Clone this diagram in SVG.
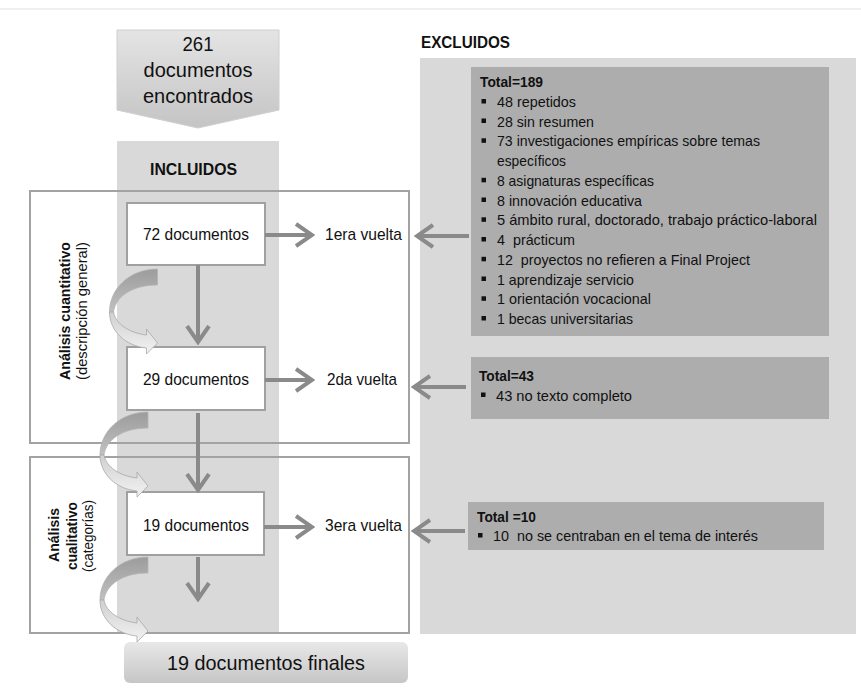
<svg xmlns="http://www.w3.org/2000/svg" width="861" height="689" viewBox="0 0 861 689">
<defs>
<style>
text{font-family:"Liberation Sans",Arial,sans-serif;fill:#111}
.b{font-weight:bold}
.li{font-size:14.6px}
.hd{font-size:14.6px;font-weight:bold}
.doc{font-size:17px}
.frame{fill:none;stroke:#a3a3a3;stroke-width:2}
.wbox{fill:#fff;stroke:#a0a0a0;stroke-width:2}
.ex{fill:#adadad}
.conn{stroke:#8a8a8a;stroke-width:4;fill:none}
.bul{fill:#111}
</style>
<linearGradient id="gTop" x1="0" y1="0" x2="0" y2="1">
<stop offset="0" stop-color="#e4e4e4"/><stop offset="1" stop-color="#c4c4c4"/>
</linearGradient>
<linearGradient id="gFin" x1="0" y1="0" x2="0" y2="1">
<stop offset="0" stop-color="#e8e8e8"/><stop offset="1" stop-color="#c6c6c6"/>
</linearGradient>
<linearGradient id="gDark" x1="0" y1="0" x2="0" y2="1">
<stop offset="0" stop-color="#9c9c9c"/><stop offset="1" stop-color="#c0c0c0"/>
</linearGradient>
<linearGradient id="gLight" x1="0" y1="0" x2="0" y2="1">
<stop offset="0" stop-color="#d0d0d0"/><stop offset="1" stop-color="#f2f2f2"/>
</linearGradient>
<g id="curve">
<path d="M0,0 C-28,0 -48,20 -48,43 L-44,43 C-42,28 -26,16 0,16 Z" fill="url(#gDark)" stroke="#b4b4b4" stroke-width="0.8"/>
<path d="M-48,43 C-48,62 -32,77 -11,79 L-11,85 L0,74 L-11,60 L-11,66 C-28,64 -42,55 -44,43 Z" fill="url(#gLight)" stroke="#a8a8a8" stroke-width="0.8"/>
</g>
<marker id="ah" viewBox="0 0 20 26" refX="17" refY="13" markerWidth="20" markerHeight="26" markerUnits="userSpaceOnUse" orient="auto">
<path d="M1,2 L17,13 L1,24" fill="none" stroke="#8a8a8a" stroke-width="4"/>
</marker>
</defs>

<rect width="861" height="689" fill="#fff"/>
<line x1="0" y1="9" x2="861" y2="9" stroke="#e2e2e2" stroke-width="1.2"/>

<g id="incluidos-col">
<rect x="117" y="141" width="162" height="492" fill="#d9d9d9"/>
<text class="b" x="193.5" y="175" font-size="16.5" text-anchor="middle" textLength="87" lengthAdjust="spacingAndGlyphs">INCLUIDOS</text>
</g>
<g id="excluidos-col">
<text class="b" x="421" y="48" font-size="16.5" textLength="89" lengthAdjust="spacingAndGlyphs">EXCLUIDOS</text>
<rect x="420" y="58" width="436" height="576" fill="#d9d9d9"/>
</g>

<g id="start">
<polygon points="117,30 279,30 279,110 198,128 117,110" fill="url(#gTop)" stroke="#cfcfcf" stroke-width="1"/>
<text x="198" y="50.5" font-size="20" text-anchor="middle" textLength="31" lengthAdjust="spacingAndGlyphs">261</text>
<text x="198" y="77" font-size="20" text-anchor="middle" textLength="109" lengthAdjust="spacingAndGlyphs">documentos</text>
<text x="198" y="103" font-size="20" text-anchor="middle" textLength="110" lengthAdjust="spacingAndGlyphs">encontrados</text>
</g>

<g id="fase-cuantitativa">
<rect class="frame" x="30" y="191" width="379" height="252"/>
<text class="b" font-size="14.5" transform="translate(70,311) rotate(-90)" text-anchor="middle" textLength="138" lengthAdjust="spacingAndGlyphs">Análisis cuantitativo</text>
<text font-size="14.5" transform="translate(86.5,311) rotate(-90)" text-anchor="middle" textLength="138" lengthAdjust="spacingAndGlyphs">(descripción general)</text>
</g>
<g id="fase-cualitativa">
<rect class="frame" x="30" y="457" width="379" height="176"/>
<text class="b" font-size="14.5" transform="translate(59,535) rotate(-90)" text-anchor="middle" textLength="54" lengthAdjust="spacingAndGlyphs">Análisis</text>
<text class="b" font-size="14.5" transform="translate(76.5,536) rotate(-90)" text-anchor="middle" textLength="68" lengthAdjust="spacingAndGlyphs">cualitativo</text>
<text font-size="14.5" transform="translate(93,536) rotate(-90)" text-anchor="middle" textLength="72" lengthAdjust="spacingAndGlyphs">(categorías)</text>
</g>

<g id="doc72">
<rect class="wbox" x="127" y="203" width="138" height="62"/>
<text class="doc" x="196" y="240" text-anchor="middle" textLength="106" lengthAdjust="spacingAndGlyphs">72 documentos</text>
</g>
<g id="doc29">
<rect class="wbox" x="127" y="347" width="138" height="63"/>
<text class="doc" x="196" y="385" text-anchor="middle" textLength="106" lengthAdjust="spacingAndGlyphs">29 documentos</text>
</g>
<g id="doc19">
<rect class="wbox" x="127" y="492" width="137" height="63"/>
<text class="doc" x="196" y="531" text-anchor="middle" textLength="106" lengthAdjust="spacingAndGlyphs">19 documentos</text>
</g>

<g id="vuelta1"><text class="doc" x="325" y="240" textLength="77" lengthAdjust="spacingAndGlyphs">1era vuelta</text></g>
<g id="vuelta2"><text class="doc" x="327" y="385" textLength="70" lengthAdjust="spacingAndGlyphs">2da vuelta</text></g>
<g id="vuelta3"><text class="doc" x="325" y="531" textLength="77" lengthAdjust="spacingAndGlyphs">3era vuelta</text></g>

<g id="final">
<rect x="124" y="642" width="284" height="41" rx="6" fill="url(#gFin)"/>
<text x="266" y="670" font-size="21" text-anchor="middle" textLength="198" lengthAdjust="spacingAndGlyphs">19 documentos finales</text>
</g>

<g id="excl1">
<rect class="ex" x="471" y="67" width="358" height="269"/>
<text class="hd" x="480" y="87" textLength="63" lengthAdjust="spacingAndGlyphs">Total=189</text>
<g class="bul">
<rect x="481.5" y="99" width="4.5" height="4.5"/>
<rect x="481.5" y="118.5" width="4.5" height="4.5"/>
<rect x="481.5" y="138.3" width="4.5" height="4.5"/>
<rect x="481.5" y="177.8" width="4.5" height="4.5"/>
<rect x="481.5" y="197.5" width="4.5" height="4.5"/>
<rect x="481.5" y="217.3" width="4.5" height="4.5"/>
<rect x="481.5" y="237" width="4.5" height="4.5"/>
<rect x="481.5" y="256.8" width="4.5" height="4.5"/>
<rect x="481.5" y="276.5" width="4.5" height="4.5"/>
<rect x="481.5" y="296.3" width="4.5" height="4.5"/>
<rect x="481.5" y="316" width="4.5" height="4.5"/>
</g>
<text class="li" x="497" y="106.7" textLength="79" lengthAdjust="spacingAndGlyphs">48 repetidos</text>
<text class="li" x="497" y="126.5" textLength="97" lengthAdjust="spacingAndGlyphs">28 sin resumen</text>
<text class="li" x="497" y="146.2" textLength="263" lengthAdjust="spacingAndGlyphs">73 investigaciones empíricas sobre temas</text>
<text class="li" x="497" y="166" textLength="69" lengthAdjust="spacingAndGlyphs">específicos</text>
<text class="li" x="497" y="185.7" textLength="157" lengthAdjust="spacingAndGlyphs">8 asignaturas específicas</text>
<text class="li" x="497" y="205.5" textLength="145" lengthAdjust="spacingAndGlyphs">8 innovación educativa</text>
<text class="li" x="497" y="225.2" textLength="320" lengthAdjust="spacingAndGlyphs">5 ámbito rural, doctorado, trabajo práctico-laboral</text>
<text class="li" x="497" y="245" textLength="78" lengthAdjust="spacingAndGlyphs" xml:space="preserve">4  prácticum</text>
<text class="li" x="497" y="264.7" textLength="253" lengthAdjust="spacingAndGlyphs" xml:space="preserve">12  proyectos no refieren a Final Project</text>
<text class="li" x="497" y="284.5" textLength="137" lengthAdjust="spacingAndGlyphs">1 aprendizaje servicio</text>
<text class="li" x="497" y="304.2" textLength="154" lengthAdjust="spacingAndGlyphs">1 orientación vocacional</text>
<text class="li" x="497" y="324" textLength="136" lengthAdjust="spacingAndGlyphs">1 becas universitarias</text>
</g>

<g id="excl2">
<rect class="ex" x="471" y="357" width="358" height="62"/>
<text class="hd" x="479" y="380.7" textLength="55" lengthAdjust="spacingAndGlyphs">Total=43</text>
<rect class="bul" x="481" y="392.5" width="4.5" height="4.5"/>
<text class="li" x="496" y="400.7" textLength="136" lengthAdjust="spacingAndGlyphs">43 no texto completo</text>
</g>

<g id="excl3">
<rect class="ex" x="468" y="502" width="356" height="48"/>
<text class="hd" x="477" y="521.7" textLength="59" lengthAdjust="spacingAndGlyphs" xml:space="preserve">Total =10</text>
<rect class="bul" x="478" y="533" width="4.5" height="4.5"/>
<text class="li" x="493" y="541" textLength="265" lengthAdjust="spacingAndGlyphs" xml:space="preserve">10  no se centraban en el tema de interés</text>
</g>

<g id="connectors">
<line class="conn" x1="265" y1="235" x2="312" y2="235" marker-end="url(#ah)"/>
<line class="conn" x1="265" y1="380" x2="312" y2="380" marker-end="url(#ah)"/>
<line class="conn" x1="264" y1="527" x2="312" y2="527" marker-end="url(#ah)"/>
<line class="conn" x1="469" y1="236" x2="417" y2="236" marker-end="url(#ah)"/>
<line class="conn" x1="466" y1="387" x2="414" y2="387" marker-end="url(#ah)"/>
<line class="conn" x1="465" y1="531" x2="414" y2="531" marker-end="url(#ah)"/>
<line class="conn" x1="198" y1="265" x2="198" y2="342" marker-end="url(#ah)"/>
<line class="conn" x1="198" y1="413" x2="198" y2="490" marker-end="url(#ah)"/>
<line class="conn" x1="198" y1="557" x2="198" y2="599" marker-end="url(#ah)"/>
<use href="#curve" transform="translate(157.5,269)"/>
<use href="#curve" transform="translate(148,412)"/>
<use href="#curve" transform="translate(148,557)"/>
</g>
</svg>
